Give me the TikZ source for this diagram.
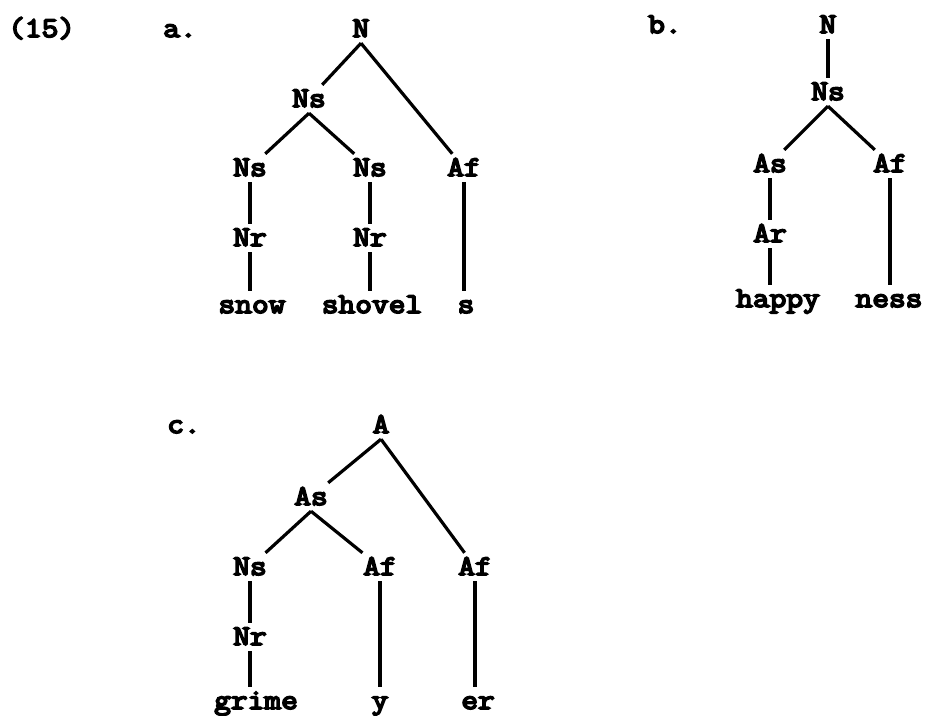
\documentclass[tikz,border=0pt]{standalone}
\usepackage{fontspec}
\setmonofont[FakeStretch=1.14,FakeBold=6]{Latin Modern Mono}
\tikzset{
  lab/.style={font=\ttfamily\fontsize{28.5}{32}\selectfont, text height=16pt, text depth=0pt, inner sep=6pt, anchor=base},
  tag/.style={font=\ttfamily\fontsize{28.5}{32}\selectfont, inner sep=0pt, anchor=base west},
  edge/.style={line width=3.2pt}
}
\begin{document}
\begin{tikzpicture}[x=1pt,y=-1pt]
\useasboundingbox (0,0) rectangle (926,715);
% labels
\node[tag] (t15) at (8,37) {(15)};
\node[tag] (ta) at (163,37) {a.};
\node[tag] (tb) at (648,33) {b.};
\node[tag] (tc) at (167,433) {c.};
% tree a
\node[lab] (aN) at (361,37) {N};
\node[lab] (aNs) at (309,107) {Ns};
\node[lab] (aNs1) at (250,176) {Ns};
\node[lab] (aNs2) at (370,176) {Ns};
\node[lab] (aAf) at (464,176) {Af};
\node[lab] (aNr1) at (250,246) {Nr};
\node[lab] (aNr2) at (370,246) {Nr};
\node[lab] (snow) at (252,313) {snow};
\node[lab] (shovel) at (372,313) {shovel};
\node[lab] (s) at (466,313) {s};
\draw[edge] (aN.south) -- (aNs);
\draw[edge] (aN.south) -- (aAf);
\draw[edge] (aNs.south) -- (aNs1);
\draw[edge] (aNs.south) -- (aNs2);
\draw[edge] (aNs1.south) -- (aNr1.north);
\draw[edge] (aNr1.south) -- (aNr1.south |- snow.north);
\draw[edge] (aNs2.south) -- (aNr2.north);
\draw[edge] (aNr2.south) -- (aNr2.south |- shovel.north);
\draw[edge] (aAf.south) -- (aAf.south |- s.north);
% tree b
\node[lab] (bN) at (828,33) {N};
\node[lab] (bNs) at (828,100) {Ns};
\node[lab] (bAs) at (770,172) {As};
\node[lab] (bAf) at (890,172) {Af};
\node[lab] (bAr) at (770,242) {Ar};
\node[lab] (happy) at (778,307) {happy};
\node[lab] (ness) at (889,307) {ness};
\draw[edge] (bN.south) -- (bNs.north);
\draw[edge] (bNs.south) -- (bAs);
\draw[edge] (bNs.south) -- (bAf);
\draw[edge] (bAs.south) -- (bAr.north);
\draw[edge] (bAr.south) -- (bAr.south |- happy.north);
\draw[edge] (bAf.south) -- (bAf.south |- ness.north);
% tree c
\node[lab] (cA) at (381,433) {A};
\node[lab] (cAs) at (311,505) {As};
\node[lab] (cNs) at (250,575) {Ns};
\node[lab] (cAf1) at (380,575) {Af};
\node[lab] (cAf2) at (475,575) {Af};
\node[lab] (cNr) at (250,645) {Nr};
\node[lab] (grime) at (256,709) {grime};
\node[lab] (y) at (380,709) {y};
\node[lab] (er) at (478,709) {er};
\draw[edge] (cA.south) -- (cAs);
\draw[edge] (cA.south) -- (cAf2);
\draw[edge] (cAs.south) -- (cNs);
\draw[edge] (cAs.south) -- (cAf1);
\draw[edge] (cNs.south) -- (cNr.north);
\draw[edge] (cNr.south) -- (cNr.south |- grime.north);
\draw[edge] (cAf1.south) -- (cAf1.south |- y.north);
\draw[edge] (cAf2.south) -- (cAf2.south |- er.north);
\end{tikzpicture}
\end{document}
